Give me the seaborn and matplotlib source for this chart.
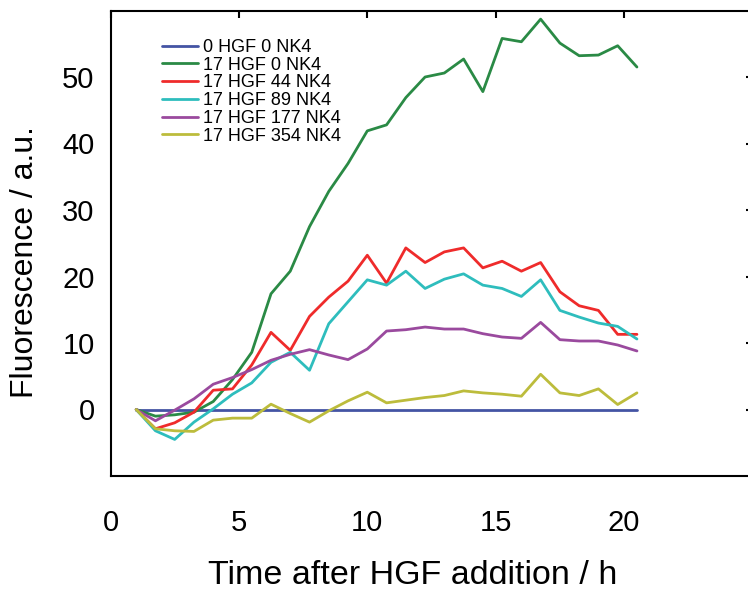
import pandas as pd
import numpy as np
import matplotlib
matplotlib.use('Agg')
import matplotlib.pyplot as plt
import seaborn as sns

sns.set_style('white')
plt.rcParams['font.family'] = ['Liberation Sans', 'DejaVu Sans']
plt.rcParams['text.color'] = 'black'
plt.rcParams['axes.labelcolor'] = 'black'

# time points (h)
times = [1.0, 1.75, 2.5, 3.25, 4.0, 4.75, 5.5, 6.25, 7.0, 7.75, 8.5, 9.25, 10.0,
         10.75, 11.5, 12.25, 13.0, 13.75, 14.5, 15.25, 16.0, 16.75, 17.5, 18.25,
         19.0, 19.75, 20.5]

hgf0_nk0 = [0, 0, 0, 0, 0, 0, 0, 0, 0, 0, 0, 0, 0, 0, 0, 0, 0, 0, 0, 0, 0, 0, 0, 0, 0, 0, 0]
hgf17_nk0 = [0, -1.0, -0.8, -0.4, 1.2, 4.5, 8.6, 17.4, 20.8, 27.5, 32.8, 37.0, 41.9, 42.8,
             46.9, 50.0, 50.6, 52.7, 47.8, 55.8, 55.3, 58.7, 55.1, 53.2, 53.3, 54.7, 51.5]
hgf17_nk44 = [0, -2.9, -2.0, -0.4, 2.9, 3.1, 6.7, 11.6, 8.9, 14.0, 16.9, 19.3, 23.2, 19.0,
              24.3, 22.1, 23.7, 24.3, 21.3, 22.3, 20.8, 22.1, 17.7, 15.6, 14.9, 11.3, 11.3]
hgf17_nk89 = [0, -3.2, -4.5, -1.9, 0.1, 2.3, 4.0, 7.1, 8.6, 5.9, 12.9, 16.2, 19.5, 18.7,
              20.8, 18.2, 19.6, 20.4, 18.7, 18.2, 17.0, 19.5, 14.9, 13.9, 13.0, 12.5, 10.6]
hgf17_nk177 = [0, -1.7, -0.1, 1.6, 3.8, 4.8, 6.0, 7.4, 8.3, 9.0, 8.2, 7.5, 9.1, 11.8,
               12.0, 12.4, 12.1, 12.1, 11.4, 10.9, 10.7, 13.1, 10.5, 10.3, 10.3, 9.7, 8.8]
hgf17_nk354 = [0, -2.9, -3.2, -3.3, -1.6, -1.3, -1.3, 0.8, -0.6, -1.9, -0.2, 1.3, 2.6, 1.0,
               1.4, 1.8, 2.1, 2.8, 2.5, 2.3, 2.0, 5.3, 2.5, 2.1, 3.1, 0.75, 2.5]

labels = ['0 HGF 0 NK4', '17 HGF 0 NK4', '17 HGF 44 NK4', '17 HGF 89 NK4',
          '17 HGF 177 NK4', '17 HGF 354 NK4']
colors = ['#4454a4', '#2a8a45', '#ef2b2b', '#2ebdbd', '#9a4a9e', '#bcbc3c']

series = [hgf0_nk0, hgf17_nk0, hgf17_nk44, hgf17_nk89, hgf17_nk177, hgf17_nk354]
df = pd.concat([pd.DataFrame({'time': times, 'value': s, 'cond': lab})
                for s, lab in zip(series, labels)], ignore_index=True)

fig = plt.figure(figsize=(7.48, 5.92), dpi=100)
W, H = 748, 592
x0, x1, ytop, ybot = 110.5, 752.5, 10.5, 476
ax = fig.add_axes([x0 / W, (H - ybot) / H, (x1 - x0) / W, (ybot - ytop) / H])

sns.lineplot(data=df, x='time', y='value', hue='cond', hue_order=labels,
             palette=colors, linewidth=2.0, ax=ax, legend=True)

ax.set_xlim(0, 25)
ax.set_ylim(-10, 60)
ax.set_xticks([0, 5, 10, 15, 20])
ax.set_yticks([0, 10, 20, 30, 40, 50])
ax.tick_params(direction='in', length=5, width=1.5, top=True, right=True,
               labelsize=21, colors='black')
ax.tick_params(axis='x', pad=24)
ax.tick_params(axis='y', pad=11.5)
for sp in ax.spines.values():
    sp.set_linewidth(1.5)
    sp.set_color('black')

# axis titles, placed where they sit in the original figure
ax.set_xlabel('Time after HGF addition / h', fontsize=24.5)
ax.xaxis.set_label_coords((413 - x0) / (x1 - x0), (ybot - 560) / (ybot - ytop))
ax.set_ylabel('Fluorescence / a.u.', fontsize=23)
ax.yaxis.set_label_coords((40 - x0) / (x1 - x0), (ybot - 262) / (ybot - ytop))

handles, labs = ax.get_legend_handles_labels()
ax.legend(handles, labs, loc='upper left', bbox_to_anchor=(162 / W, 1 - 39 / H),
          bbox_transform=fig.transFigure, frameon=False, fontsize=13,
          handlelength=2.0, handletextpad=0.28, labelspacing=0.04,
          borderpad=0, borderaxespad=0)

fig.savefig('out.png', dpi=100)
